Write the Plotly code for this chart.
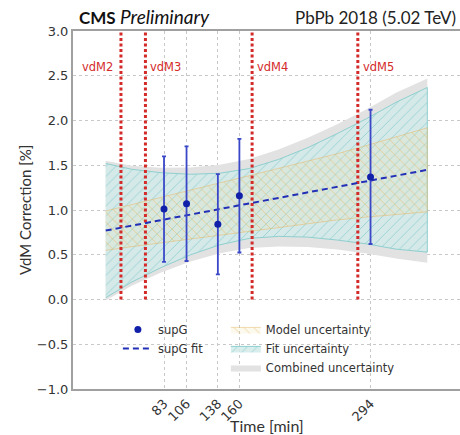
import plotly.graph_objects as go

# ---------------- data ----------------
times = [83, 106, 138, 160, 294]
supg = [1.01, 1.07, 0.84, 1.16, 1.37]
supg_err = [0.59, 0.64, 0.56, 0.635, 0.75]

fit_t = [23.4, 352]
fit_y = [0.77, 1.449]

band_t = [23.4, 50, 80, 110, 140, 170, 200, 230, 260, 290, 320, 352]
fit_hi = [1.52, 1.455, 1.417, 1.399, 1.411, 1.463, 1.565, 1.697, 1.854, 2.021, 2.203, 2.369]
fit_lo = [0.02, 0.195, 0.357, 0.499, 0.611, 0.683, 0.705, 0.697, 0.664, 0.621, 0.563, 0.529]
model_hi = [0.989, 1.06, 1.137, 1.219, 1.301, 1.383, 1.465, 1.547, 1.629, 1.721, 1.813, 1.919]
model_lo = [0.549, 0.59, 0.637, 0.679, 0.721, 0.763, 0.805, 0.847, 0.889, 0.921, 0.953, 0.979]
comb_hi = [1.549, 1.495, 1.473, 1.474, 1.505, 1.571, 1.677, 1.807, 1.959, 2.127, 2.309, 2.47]
comb_lo = [-0.011, 0.155, 0.301, 0.424, 0.517, 0.575, 0.593, 0.587, 0.559, 0.515, 0.457, 0.41]

vdm_names = ["vdM2", "vdM3", "vdM4", "vdM5"]
vdm_t = [39, 64, 173, 281]
vdm_span = [0.0, 3.0]

xtick_vals = [83, 106, 138, 160, 294]

# ---------------- styles ----------------
BLUE = "#2230b8"
RED = "#d42a2a"
TEAL = "#62bebe"
ORANGE = "#e6b45a"
GREY = "#e2e2e2"
TXT = "#333333"
TICKFONT = "DejaVu Sans"
TITLEFONT = "Lato"


def poly(t, hi, lo):
    return list(t) + list(t)[::-1], list(hi) + list(lo)[::-1]


fig = go.Figure()

px_, py_ = poly(band_t, comb_hi, comb_lo)
fig.add_trace(go.Scatter(x=px_, y=py_, fill="toself", mode="lines",
                         line=dict(width=0, color=GREY), fillcolor=GREY,
                         name="Combined uncertainty", legend="legend2",
                         legendrank=3, hoverinfo="skip"))

px_, py_ = poly(band_t, fit_hi, fit_lo)
fig.add_trace(go.Scatter(x=px_, y=py_, fill="toself", mode="lines",
                         line=dict(width=1, color="#8fcfcf"),
                         fillpattern=dict(shape="/", fgcolor=TEAL, bgcolor="rgba(210,234,234,0.85)",
                                          size=7, solidity=0.14),
                         name="Fit uncertainty", legend="legend2",
                         legendrank=2, hoverinfo="skip"))

px_, py_ = poly(band_t, model_hi, model_lo)
fig.add_trace(go.Scatter(x=px_, y=py_, fill="toself", mode="lines",
                         line=dict(width=0.8, color="rgba(230,180,90,0.6)"),
                         fillpattern=dict(shape="\\", fgcolor=ORANGE, bgcolor="rgba(240,225,170,0.2)",
                                          size=7, solidity=0.14),
                         name="Model uncertainty", legend="legend2",
                         legendrank=1, hoverinfo="skip"))

# vdM lines
for name, t in zip(vdm_names, vdm_t):
    fig.add_trace(go.Scatter(x=[t, t], y=vdm_span, mode="lines",
                             line=dict(color=RED, width=3, dash="3px,2.5px"),
                             showlegend=False, hoverinfo="skip"))
    right = name != "vdM2"
    fig.add_annotation(x=t, y=2.6, text=name, showarrow=False,
                       xanchor="left" if right else "right",
                       xshift=3 if right else -6,
                       font=dict(color=RED, size=11.5, family=TICKFONT))

fig.add_trace(go.Scatter(x=fit_t, y=fit_y, mode="lines",
                         line=dict(color=BLUE, width=2, dash="6px,4px"),
                         name="supG fit", legendrank=2, hoverinfo="skip"))

fig.add_trace(go.Scatter(x=times, y=supg, mode="markers",
                         marker=dict(color="#1020a8", size=7),
                         error_y=dict(type="data", array=supg_err, color="#3a48c8",
                                      thickness=1.8, width=2),
                         name="supG", legendrank=1))

fig.update_layout(
    width=460, height=435,
    margin=dict(l=73, r=0, t=31, b=46),
    paper_bgcolor="white", plot_bgcolor="white",
    font=dict(family=TICKFONT, color=TXT),
    legend=dict(x=0.116, y=0.207, xanchor="left", yanchor="top",
                bgcolor="rgba(0,0,0,0)", font=dict(size=11.5, family=TICKFONT, color=TXT),
                itemwidth=30, tracegroupgap=0),
    legend2=dict(x=0.395, y=0.207, xanchor="left", yanchor="top",
                 bgcolor="rgba(0,0,0,0)", font=dict(size=11.5, family=TICKFONT, color=TXT),
                 itemwidth=30, tracegroupgap=0),
    xaxis=dict(range=[-10, 385.4], tickvals=xtick_vals, tickangle=-45,
               showgrid=True, gridcolor="#c8c8c8", griddash="dot", gridwidth=1,
               showline=True, linecolor="#a0a0a0", linewidth=2, mirror=True,
               ticks="", zeroline=False,
               tickfont=dict(size=13, family=TICKFONT, color=TXT)),
    yaxis=dict(range=[-1.0, 3.0], dtick=0.5, tickformat=".1f",
               showgrid=True, gridcolor="#c8c8c8", griddash="dot", gridwidth=1,
               showline=True, linecolor="#a0a0a0", linewidth=2,
               ticks="", zeroline=False,
               tickfont=dict(size=13, family=TICKFONT, color=TXT)),
    showlegend=True,
)

fig.add_annotation(xref="paper", yref="paper", x=0.01, y=1.0, yshift=1,
                   xanchor="left", yanchor="bottom",
                   text="<b>CMS</b> <i><span style='font-size:19px'>Preliminary</span></i>",
                   showarrow=False,
                   font=dict(size=17, family=TITLEFONT, color="#111"))
fig.add_annotation(xref="paper", yref="paper", x=0.995, y=1.0, yshift=1,
                   xanchor="right", yanchor="bottom",
                   text="PbPb 2018 (5.02 TeV)", showarrow=False,
                   font=dict(size=17, family=TITLEFONT, color="#222"))
fig.add_annotation(xref="paper", yref="paper", x=0.5, y=-0.101,
                   xanchor="center", yanchor="middle",
                   text="Time [min]", showarrow=False,
                   font=dict(size=16, family=TITLEFONT, color=TXT))
fig.add_annotation(xref="paper", yref="paper", x=-0.124, y=0.5,
                   xanchor="center", yanchor="middle", textangle=-90,
                   text="VdM Correction [%]", showarrow=False,
                   font=dict(size=15, family=TITLEFONT, color=TXT))

fig.write_html("out.html")
